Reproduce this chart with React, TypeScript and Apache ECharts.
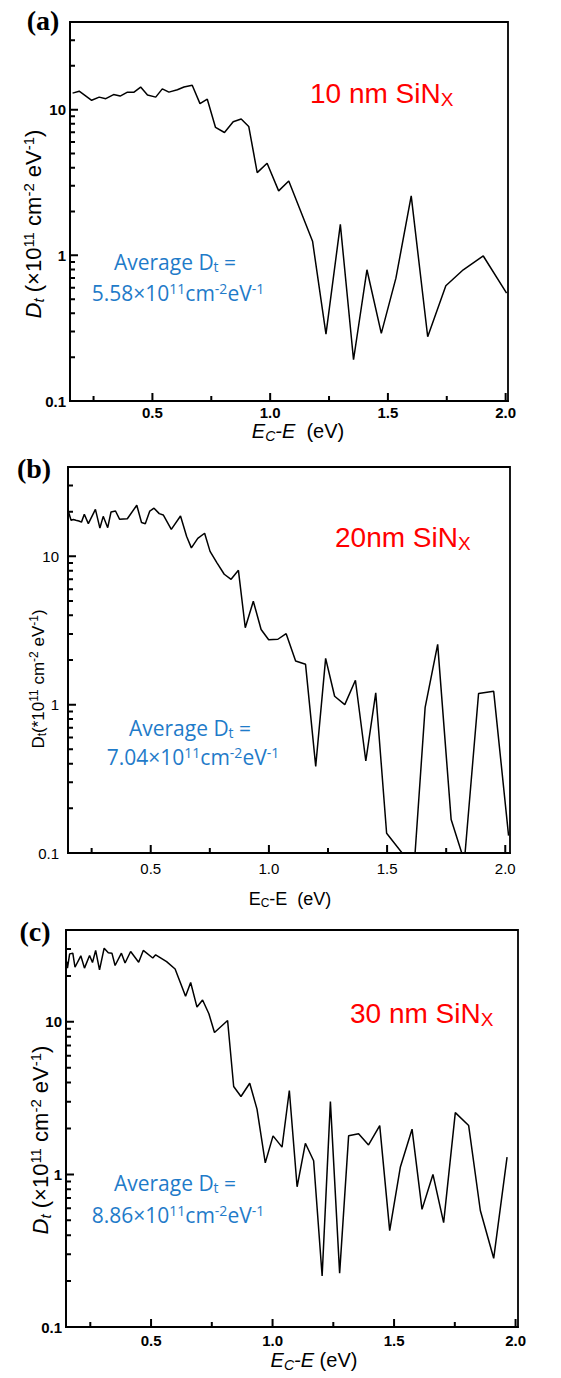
import React, { useEffect, useRef } from "react";
import * as echarts from "echarts";

// ---- data (a) 10 nm ----
const eA = [0.161,0.189,0.242,0.274,0.302,0.335,0.363,0.394,0.422,0.45,0.479,0.514,0.542,0.57,0.606,0.634,0.669,0.702,0.733,0.768,0.806,0.843,0.877,0.909,0.945,0.987,1.036,1.079,1.128,1.18,1.237,1.298,1.354,1.411,1.472,1.534,1.599,1.669,1.746,1.82,1.905,2.004];
const dA = [13.0,13.4,11.6,12.2,11.9,12.7,12.4,13.2,13.2,14.3,12.6,12.2,13.9,13.2,13.7,14.3,14.7,11.0,11.8,7.55,6.97,8.26,8.63,7.67,3.70,4.29,2.77,3.24,2.04,1.25,0.288,1.63,0.192,0.796,0.291,0.697,2.56,0.276,0.618,0.796,0.99,0.55];
// ---- data (b) 20 nm ----
const eB = [0.146,0.163,0.173,0.183,0.196,0.207,0.219,0.236,0.266,0.285,0.299,0.318,0.332,0.351,0.368,0.401,0.441,0.461,0.477,0.496,0.514,0.536,0.553,0.587,0.626,0.652,0.672,0.699,0.728,0.751,0.781,0.811,0.840,0.871,0.900,0.934,0.967,0.999,1.038,1.073,1.113,1.155,1.198,1.240,1.278,1.321,1.366,1.410,1.452,1.498,1.614,1.661,1.714,1.771,1.827,1.887,1.951,2.014];
const dB = [21.5,17.5,17.7,17.5,17.3,17.0,19.2,16.6,20.7,15.5,18.6,15.6,19.9,20.2,17.8,17.9,22.1,16.9,16.6,20.2,21.1,19.4,19.0,15.2,18.7,13.6,11.4,13.2,14.3,10.8,9.0,7.57,7.0,8.05,3.30,4.98,3.21,2.74,2.76,3.01,1.97,1.87,0.384,2.05,1.14,1.0,1.46,0.417,1.20,0.136,0.079,0.96,2.55,0.168,0.088,1.19,1.23,0.131];
// ---- data (c) 30 nm ----
const eC = [0.153,0.156,0.165,0.178,0.187,0.211,0.226,0.247,0.259,0.272,0.288,0.307,0.324,0.339,0.352,0.378,0.393,0.416,0.449,0.468,0.507,0.519,0.564,0.599,0.642,0.663,0.689,0.712,0.738,0.761,0.815,0.840,0.870,0.906,0.936,0.970,1.002,1.039,1.069,1.101,1.135,1.169,1.204,1.238,1.276,1.313,1.354,1.395,1.441,1.482,1.526,1.574,1.615,1.660,1.704,1.752,1.807,1.855,1.910,1.965];
const dC = [24.8,22.5,27.9,28.2,22.8,27.1,22.5,27.2,24.5,29.4,21.9,30.4,28.4,28.2,23.4,28.2,24.3,28.9,24.6,29.4,26.2,27.5,24.8,22.2,14.7,18.1,12.5,13.9,11.3,8.51,10.2,3.77,3.24,3.96,2.68,1.19,1.79,1.51,3.55,0.83,1.6,1.23,0.216,3.0,0.225,1.79,1.85,1.56,2.09,0.428,1.12,1.98,0.59,1.0,0.483,2.54,2.09,0.58,0.282,1.30];

// ---- ticks ----
const xMajor = [0.5, 1.0, 1.5, 2.0];
const xMinor = [0.25, 0.75, 1.25, 1.75];
const yMajor = [0.1, 1, 10];
const yMinor = [0.2,0.3,0.4,0.5,0.6,0.7,0.8,0.9,2,3,4,5,6,7,8,9,20,30];

const X_MIN = 0.15;
const Y_MIN = 0.1;
const Y_MAX = 40;

const F = "Liberation Sans";
const BLUE = "#1F7BC9";

const panels = [
  { e: eA, d: dA, grid: { left: 70, top: 22, width: 438, height: 379 }, xMax: 2.01, bold: true, ylm: 4, xlm: 4 },
  { e: eB, d: dB, grid: { left: 68, top: 467, width: 442, height: 386 }, xMax: 2.02, bold: false, ylm: 9, xlm: 8 },
  { e: eC, d: dC, grid: { left: 66, top: 930, width: 452, height: 397 }, xMax: 2.01, bold: true, ylm: 4, xlm: 6 },
];

function txt(x: number, y: number, text: string, rich: any, extra: any = {}) {
  return {
    type: "text",
    x,
    y,
    rotation: extra.rotation || 0,
    z: 100,
    style: {
      text,
      rich,
      align: extra.align || "center",
      verticalAlign: "middle",
      textAlign: extra.align || "center",
      textVerticalAlign: "middle",
      fill: extra.fill || "#000",
      fontFamily: extra.fontFamily || F,
      fontSize: extra.fontSize || 16,
      fontWeight: extra.fontWeight || "normal",
    },
  };
}

function titleRich(size: number, subSize: number, italic: boolean, ff: string, fill: string) {
  const st = italic ? "italic" : "normal";
  const sh = Math.round(size * 0.45);
  return {
    i: { fontSize: size, fontStyle: st, fontFamily: ff, fill },
    n: { fontSize: size, fontStyle: "normal", fontFamily: ff, fill },
    isub: { fontSize: subSize, fontStyle: st, fontFamily: ff, fill, padding: [sh, 0, 0, 0] },
    nsub: { fontSize: subSize, fontStyle: "normal", fontFamily: ff, fill, padding: [sh, 0, 0, 0] },
    sup: { fontSize: subSize, fontStyle: "normal", fontFamily: ff, fill, padding: [0, 0, sh, 0] },
  };
}

const axisStroke = { color: "#000", width: 1.8 };

// Tick symbols: a box centred on the axis point whose visible half lies inside the plot
// (an empty sub-path keeps the bounding box symmetric about the axis).
const X_TICK_PATH = "path://M0,0L1,0L1,1L0,1ZM0,2L0.001,2L0.001,2.001Z";
const Y_TICK_PATH = "path://M1,0L2,0L2,1L1,1ZM0,0L0.001,0L0.001,0.001Z";

function tickSeries(i: number, values: number[], dir: "x" | "y", len: number) {
  return {
    type: "scatter",
    xAxisIndex: i,
    yAxisIndex: i,
    silent: true,
    z: 20,
    symbol: dir === "x" ? X_TICK_PATH : Y_TICK_PATH,
    symbolKeepAspect: false,
    symbolSize: dir === "x" ? [2, len * 2] : [len * 2, 2],
    itemStyle: { color: "#000000", opacity: 1, borderWidth: 0 },
    emphasis: { disabled: true },
    clip: true,
    data: values.map((v) => (dir === "x" ? [v, Y_MIN] : [X_MIN, v])),
  };
}

export default function App() {
  const ref = useRef<HTMLDivElement>(null);
  useEffect(() => {
    document.body.style.margin = "0";
    if (!ref.current) return;
    const chart = echarts.init(ref.current, undefined, { renderer: "svg" });

    const grid: any[] = [];
    const xAxis: any[] = [];
    const yAxis: any[] = [];
    const series: any[] = [];

    panels.forEach((p, i) => {
      grid.push({ ...p.grid, show: true, borderColor: "#000", borderWidth: 1.8, backgroundColor: "transparent" });
      const fw = p.bold ? "bold" : "normal";
      xAxis.push({
        type: "value", gridIndex: i, min: X_MIN, max: p.xMax, position: "bottom",
        axisLine: { show: true, onZero: false, lineStyle: axisStroke }, splitLine: { show: false },
        axisTick: { show: false },
        axisLabel: { show: true, customValues: xMajor, margin: p.xlm, color: "#000", fontFamily: F, fontSize: 15, fontWeight: fw, formatter: (v: number) => v.toFixed(1) },
      });
      yAxis.push({
        type: "log", logBase: 10, gridIndex: i, min: Y_MIN, max: Y_MAX, position: "left",
        axisLine: { show: true, onZero: false, lineStyle: axisStroke }, splitLine: { show: false }, minorTick: { show: false },
        axisTick: { show: false },
        axisLabel: { show: true, customValues: yMajor, margin: p.ylm, color: "#000", fontFamily: F, fontSize: 15, fontWeight: fw, formatter: (v: number) => (v < 0.5 ? "0.1" : String(Math.round(v))) },
      });
      series.push({
        type: "line",
        xAxisIndex: i,
        yAxisIndex: i,
        data: p.e.map((x, k) => [x, p.d[k]]),
        showSymbol: false,
        symbol: "none",
        clip: true,
        lineStyle: { color: "#000", width: 1.5 },
        z: 5,
      });
      series.push(tickSeries(i, xMajor, "x", 8));
      series.push(tickSeries(i, xMinor, "x", 5));
      series.push(tickSeries(i, yMajor, "y", 8));
      series.push(tickSeries(i, yMinor, "y", 5));
    });

    const gA = titleRich(22, 15, true, F, "#000");
    const gB = titleRich(17, 12, false, F, "#000");
    const gX = titleRich(20, 14, true, F, "#000");
    const gXb = titleRich(18, 12, false, F, "#000");
    const red = titleRich(28, 19, false, F, "#FF0000");
    const blue = titleRich(21, 14, false, "Open Sans", BLUE);

    const graphic: any[] = [
      txt(43, 20, "(a)", null, { fontFamily: "Liberation Serif", fontSize: 28, fontWeight: "bold" }),
      txt(34, 468, "(b)", null, { fontFamily: "Liberation Serif", fontSize: 28, fontWeight: "bold" }),
      txt(35, 931, "(c)", null, { fontFamily: "Liberation Serif", fontSize: 28, fontWeight: "bold" }),
      txt(310, 93, "{n|10 nm SiN}{nsub|X}", red, { align: "left" }),
      txt(335, 537, "{n|20nm SiN}{nsub|X}", red, { align: "left" }),
      txt(350, 1013, "{n|30 nm SiN}{nsub|X}", red, { align: "left" }),
      txt(175, 262, "{n|Average D}{nsub|t}{n| =}", blue),
      txt(178, 293, "{n|5.58×10}{sup|11}{n|cm}{sup|-2}{n|eV}{sup|-1}", blue),
      txt(190, 728, "{n|Average D}{nsub|t}{n| =}", blue),
      txt(193, 757, "{n|7.04×10}{sup|11}{n|cm}{sup|-2}{n|eV}{sup|-1}", blue),
      txt(175, 1183, "{n|Average D}{nsub|t}{n| =}", blue),
      txt(178, 1215, "{n|8.86×10}{sup|11}{n|cm}{sup|-2}{n|eV}{sup|-1}", blue),
      txt(298, 431, "{i|E}{isub|C}{i|-E}{n|  (eV)}", gX),
      txt(290, 899, "{n|E}{nsub|C}{n|-E  (eV)}", gXb),
      txt(314, 1360, "{i|E}{isub|C}{i|-E}{n| (eV)}", gX),
      txt(33, 224, "{i|D}{isub|t}{n| (×10}{sup|11}{n| cm}{sup|-2}{n| eV}{sup|-1}{n|)}", gA, { rotation: Math.PI / 2 }),
      txt(38, 679, "{n|D}{nsub|t}{n|(*10}{sup|11}{n| cm}{sup|-2}{n| eV}{sup|-1}{n|)}", gB, { rotation: Math.PI / 2 }),
      txt(40, 1140, "{i|D}{isub|t}{n| (×10}{sup|11}{n| cm}{sup|-2}{n| eV}{sup|-1}{n|)}", gA, { rotation: Math.PI / 2 }),
    ];

    chart.setOption({
      animation: false,
      backgroundColor: "#fff",
      grid,
      xAxis,
      yAxis,
      series,
      graphic,
    });
    return () => chart.dispose();
  }, []);
  return <div ref={ref} style={{ width: 561, height: 1378 }} />;
}
